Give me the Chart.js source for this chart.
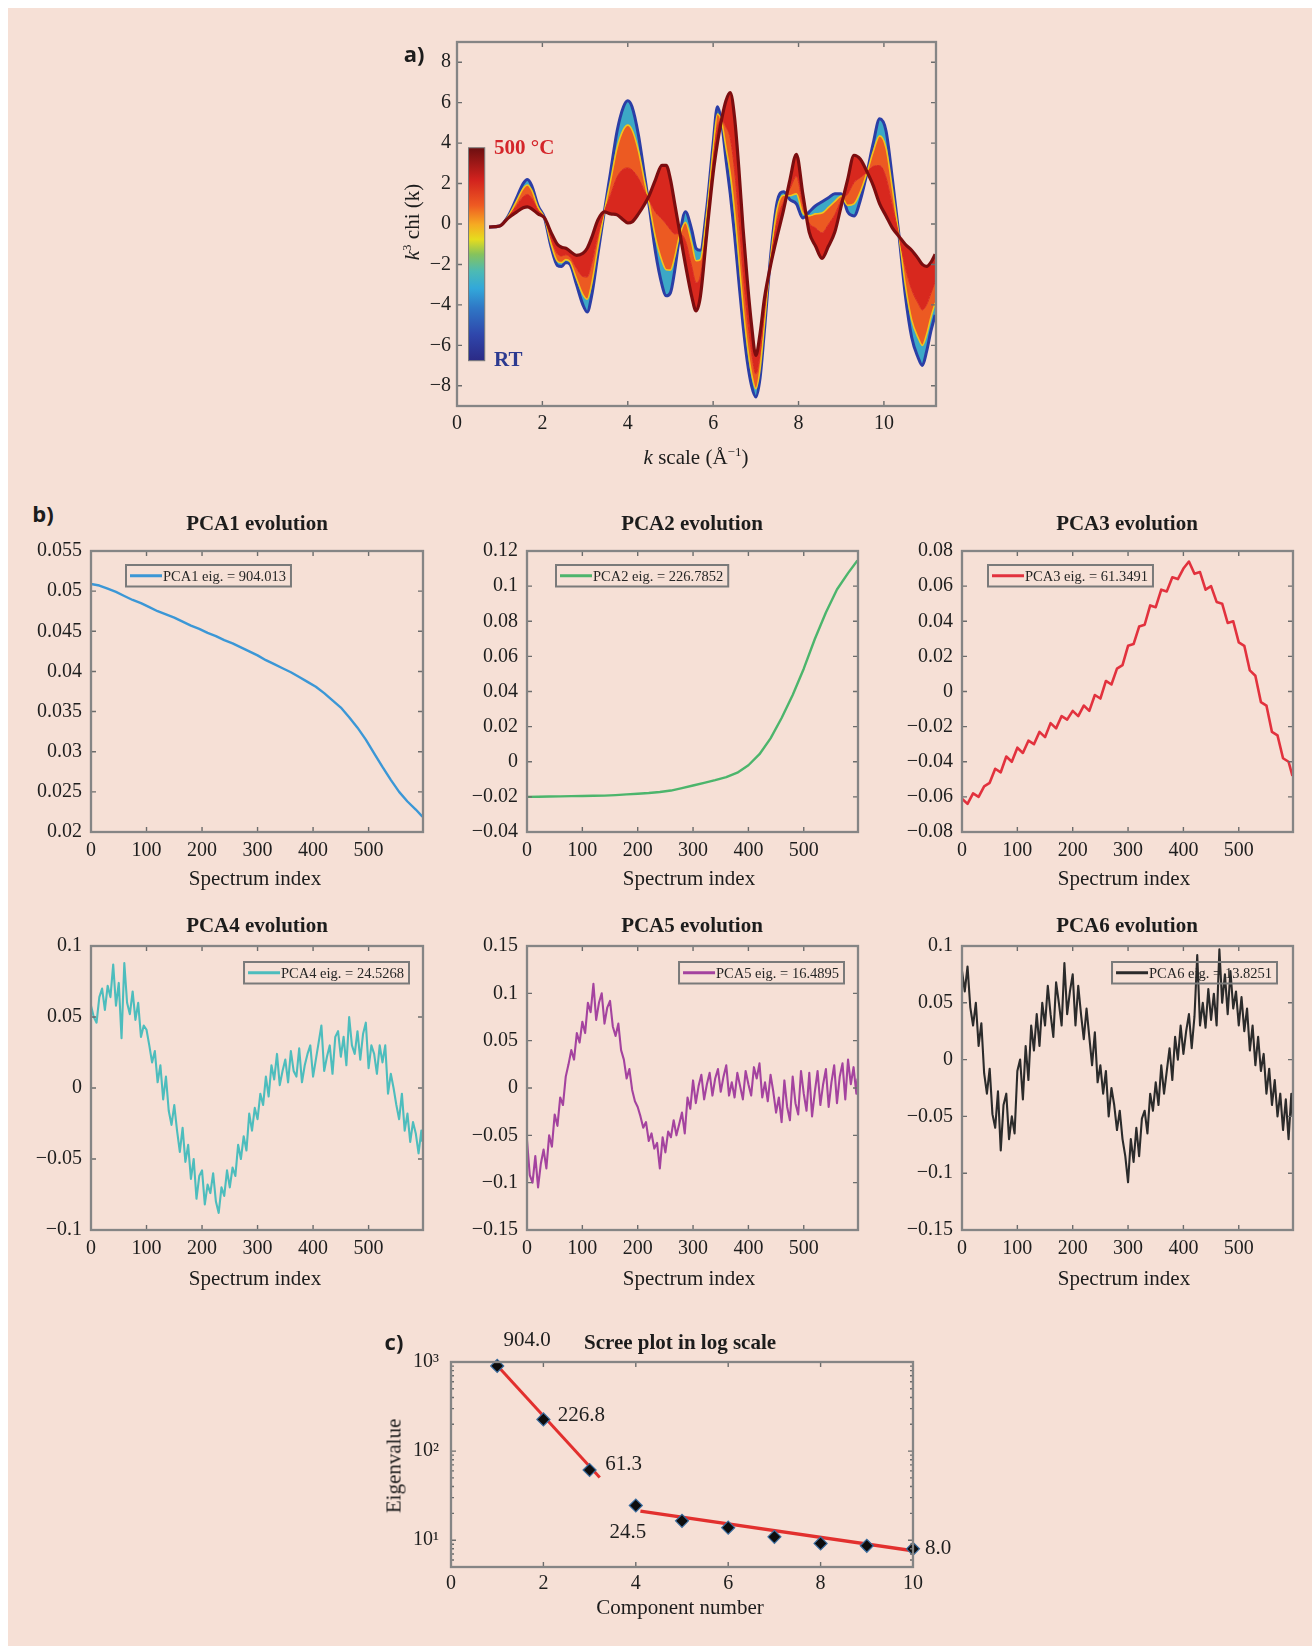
<!DOCTYPE html>
<html><head><meta charset="utf-8">
<script src="https://cdn.jsdelivr.net/npm/chart.js@4.4.1/dist/chart.umd.min.js"></script>
<style>
html,body{margin:0;padding:0;background:#fff;}
#page{position:relative;width:1312px;height:1646px;overflow:hidden;background:#fff;}
#bg{position:absolute;left:8px;top:8px;right:0;bottom:0;background:#f6e0d6;}
canvas{position:absolute;}
.t{position:absolute;font-family:'Liberation Serif','Times New Roman',serif;color:#1c1c1c;white-space:nowrap;transform:translate(-50%,-50%);font-size:21px;line-height:1;z-index:5;}
.b{font-weight:bold;}
.rot{transform:translate(-50%,-50%) rotate(-90deg);}
.lab{position:absolute;font-family:'Open Sans','Noto Sans',sans-serif;font-weight:bold;font-size:22px;color:#1c1c1c;transform:translate(-50%,-50%);line-height:1;z-index:5;}
sup{font-size:0.62em;vertical-align:0.55em;line-height:0;}
</style></head><body>
<div id="page"><div id="bg"></div>
<div class="lab" style="left:414px;top:53px;">a)</div>
<div class="t rot" style="left:412px;top:222px;"><i>k</i><sup>3</sup> chi (k)</div>
<div class="t" style="left:696px;top:457px;"><i>k</i> scale (Å<sup>−1</sup>)</div>
<div class="t b" style="left:494px;top:147px;transform:translate(0,-50%);color:#d4252a;">500 °C</div>
<div class="t b" style="left:494px;top:359px;transform:translate(0,-50%);color:#2c3a90;">RT</div>

<div class="lab" style="left:43px;top:513px;">b)</div>
<div class="t b" style="left:257px;top:523px;">PCA1 evolution</div>
<div class="t b" style="left:692px;top:523px;">PCA2 evolution</div>
<div class="t b" style="left:1127px;top:523px;">PCA3 evolution</div>
<div class="t b" style="left:257px;top:925px;">PCA4 evolution</div>
<div class="t b" style="left:692px;top:925px;">PCA5 evolution</div>
<div class="t b" style="left:1127px;top:925px;">PCA6 evolution</div>
<div class="t" style="left:255px;top:878px;">Spectrum index</div>
<div class="t" style="left:689px;top:878px;">Spectrum index</div>
<div class="t" style="left:1124px;top:878px;">Spectrum index</div>
<div class="t" style="left:255px;top:1278px;">Spectrum index</div>
<div class="t" style="left:689px;top:1278px;">Spectrum index</div>
<div class="t" style="left:1124px;top:1278px;">Spectrum index</div>

<div class="lab" style="left:394px;top:1341px;">c)</div>
<div class="t b" style="left:680px;top:1342px;">Scree plot in log scale</div>
<div class="t rot" style="left:394px;top:1466px;">Eigenvalue</div>
<div class="t" style="left:680px;top:1607px;">Component number</div>
</div>
<script>
// ---------------- DATA ----------------
// Panel a: k grid and k^3 chi(k) spectra (RT, two intermediate temperatures, 500 °C)
const kValues = [0.75,1.0,1.2,1.4,1.55,1.65,1.75,1.9,2.05,2.2,2.35,2.45,2.55,2.65,2.8,2.95,3.05,3.15,3.3,3.45,3.6,3.75,3.9,4.0,4.1,4.25,4.4,4.5,4.65,4.8,4.9,5.0,5.1,5.2,5.35,5.5,5.6,5.7,5.85,6.0,6.1,6.2,6.3,6.4,6.5,6.6,6.7,6.8,6.9,7.0,7.1,7.2,7.35,7.5,7.65,7.8,7.95,8.1,8.25,8.4,8.55,8.7,8.85,9.0,9.15,9.3,9.45,9.6,9.75,9.9,10.05,10.2,10.35,10.5,10.65,10.8,10.9,11.0,11.1,11.2];
const chiRT = [-0.15,-0.1,0.4,1.3,2.0,2.2,1.9,0.9,0.3,-1.1,-2.05,-2.1,-1.9,-2.0,-3.0,-4.0,-4.35,-3.6,-1.5,0.6,2.6,4.6,5.8,6.1,5.8,4.4,2.3,0.9,-1.4,-3.0,-3.55,-3.4,-2.3,-0.8,0.6,-0.3,-1.2,-1.3,0.8,4.0,5.8,5.0,3.2,1.5,-0.5,-2.8,-5.0,-6.8,-8.0,-8.55,-7.6,-5.3,-1.5,1.1,1.6,1.2,1.0,0.3,0.6,0.9,1.1,1.3,1.5,1.5,0.6,0.4,1.2,2.5,4.0,5.2,4.6,2.2,-0.5,-3.5,-5.6,-6.6,-7.0,-6.3,-5.3,-4.5];
const chiMidLow = [-0.15,-0.1,0.38,1.16,1.76,1.93,1.67,0.82,0.3,-0.96,-1.84,-1.91,-1.76,-1.87,-2.71,-3.49,-3.72,-3.02,-1.16,0.6,2.18,3.77,4.68,4.89,4.66,3.62,2.04,1.0,-0.68,-1.82,-2.26,-2.28,-1.64,-0.68,0.08,-0.96,-1.82,-1.76,0.54,3.7,5.44,5.04,3.78,2.5,0.66,-1.68,-4.04,-6.0,-7.4,-8.14,-7.16,-4.98,-1.6,0.76,1.42,1.4,1.49,0.54,0.4,0.5,0.54,0.82,1.12,1.38,0.92,1.0,1.6,2.52,3.58,4.36,3.76,1.72,-0.52,-3.0,-4.74,-5.62,-6.0,-5.46,-4.62,-3.9];
const chiMidHigh = [-0.15,-0.1,0.35,0.92,1.34,1.46,1.27,0.68,0.3,-0.72,-1.47,-1.58,-1.52,-1.64,-2.2,-2.6,-2.62,-2.0,-0.57,0.6,1.45,2.32,2.72,2.77,2.67,2.26,1.59,1.18,0.58,0.25,0.0,-0.28,-0.49,-0.47,-0.83,-2.12,-2.9,-2.57,0.09,3.18,4.81,5.11,4.8,4.25,2.69,0.28,-2.36,-4.6,-6.35,-7.42,-6.39,-4.42,-1.78,0.17,1.11,1.75,2.35,0.96,0.05,-0.2,-0.44,-0.02,0.46,1.17,1.48,2.05,2.3,2.56,2.85,2.89,2.29,0.88,-0.56,-2.13,-3.24,-3.91,-4.25,-3.99,-3.43,-2.85];
const chi500 = [-0.15,-0.1,0.3,0.6,0.8,0.85,0.75,0.5,0.3,-0.4,-1.0,-1.15,-1.2,-1.35,-1.55,-1.45,-1.2,-0.7,0.2,0.6,0.5,0.45,0.2,0.05,0.1,0.5,1.0,1.4,2.2,2.9,2.9,2.2,1.0,-0.2,-2.0,-3.6,-4.3,-3.6,-0.5,2.5,4.0,5.2,6.1,6.5,5.3,2.8,-0.2,-2.8,-5.0,-6.5,-5.4,-3.7,-2.0,-0.6,0.7,2.2,3.45,1.5,-0.4,-1.1,-1.7,-1.1,-0.4,0.9,2.2,3.4,3.2,2.6,1.9,1.0,0.4,-0.2,-0.6,-1.0,-1.3,-1.7,-2.0,-2.1,-1.9,-1.5];
const kTicks = [0,2,4,6,8,10];
const chiTicks = [-8,-6,-4,-2,0,2,4,6,8];
const colorbarK = [0.27, 0.65];
const colorbarChi = [-6.76, 3.77];

// Panel b: PCA score evolution vs spectrum index
const idxStep15 = Array.from({length:40},(_,i)=>i*15).concat(597);
const idxStep20 = Array.from({length:30},(_,i)=>i*20).concat(597);
const idxStep10 = Array.from({length:60},(_,i)=>i*10).concat(597);
const idxStep5  = Array.from({length:120},(_,i)=>i*5).concat(597);
const pca1 = [0.0509,0.0507,0.0503,0.0499,0.0494,0.0489,0.0485,0.0480,0.0475,0.0471,0.0467,0.0462,0.0457,0.0453,0.0448,0.0444,0.0439,0.0435,0.0430,0.0425,0.0420,0.0414,0.0409,0.0404,0.0399,0.0393,0.0387,0.0381,0.0373,0.0364,0.0355,0.0343,0.0330,0.0315,0.0298,0.0281,0.0265,0.0250,0.0238,0.0228,0.0219];
const pca2 = [-0.0200,-0.0199,-0.0198,-0.0197,-0.0196,-0.0195,-0.0194,-0.0193,-0.0190,-0.0186,-0.0182,-0.0178,-0.0172,-0.0164,-0.0150,-0.0135,-0.0120,-0.0105,-0.0088,-0.0062,-0.0020,0.0043,0.0133,0.0249,0.0380,0.0530,0.0699,0.0850,0.0981,0.1074,0.1146];
const pca3 = [-0.061,-0.064,-0.058,-0.060,-0.054,-0.052,-0.044,-0.046,-0.037,-0.040,-0.032,-0.035,-0.028,-0.030,-0.023,-0.026,-0.018,-0.021,-0.014,-0.016,-0.011,-0.014,-0.008,-0.011,-0.002,-0.004,0.006,0.004,0.013,0.015,0.026,0.027,0.037,0.038,0.049,0.048,0.058,0.057,0.065,0.064,0.070,0.074,0.067,0.068,0.058,0.060,0.051,0.050,0.039,0.040,0.028,0.026,0.012,0.009,-0.006,-0.008,-0.023,-0.025,-0.038,-0.040,-0.048];
const pca4 = [0.058,0.050,0.046,0.064,0.070,0.055,0.072,0.064,0.087,0.058,0.074,0.035,0.088,0.060,0.052,0.068,0.048,0.060,0.036,0.044,0.041,0.030,0.018,0.026,0.004,0.016,-0.008,0.008,-0.016,-0.026,-0.012,-0.030,-0.045,-0.028,-0.052,-0.040,-0.064,-0.050,-0.078,-0.062,-0.058,-0.082,-0.068,-0.074,-0.060,-0.080,-0.088,-0.070,-0.076,-0.058,-0.070,-0.056,-0.062,-0.040,-0.050,-0.034,-0.044,-0.018,-0.030,-0.014,-0.022,-0.004,-0.012,0.008,-0.006,0.016,0.006,0.024,0.002,0.012,0.020,0.004,0.026,0.012,0.008,0.028,0.004,0.016,0.024,0.030,0.008,0.020,0.032,0.044,0.012,0.022,0.030,0.010,0.036,0.040,0.022,0.036,0.016,0.050,0.030,0.024,0.040,0.020,0.038,0.046,0.014,0.030,0.024,0.010,0.030,0.018,0.030,-0.004,0.010,0.000,-0.012,-0.022,-0.004,-0.030,-0.018,-0.038,-0.024,-0.032,-0.046,-0.030,-0.038];
const pca5 = [-0.055,-0.092,-0.100,-0.072,-0.105,-0.080,-0.065,-0.085,-0.050,-0.062,-0.028,-0.040,-0.010,-0.018,0.012,0.025,0.040,0.030,0.058,0.048,0.070,0.058,0.090,0.080,0.110,0.072,0.090,0.100,0.068,0.085,0.092,0.065,0.055,0.068,0.040,0.030,0.010,0.020,-0.002,-0.014,-0.020,-0.030,-0.042,-0.036,-0.056,-0.048,-0.064,-0.058,-0.085,-0.052,-0.068,-0.046,-0.052,-0.034,-0.050,-0.038,-0.026,-0.048,-0.010,-0.022,0.008,-0.016,0.002,0.014,-0.012,0.004,0.016,-0.008,0.010,0.020,-0.004,0.012,0.024,-0.008,0.006,-0.010,0.016,0.002,-0.012,0.018,0.004,-0.008,0.022,0.010,0.026,-0.010,0.006,-0.014,0.014,-0.004,-0.026,-0.010,-0.036,0.008,-0.020,-0.034,0.012,-0.016,-0.028,0.018,-0.006,-0.024,0.016,-0.030,-0.004,0.018,-0.018,0.004,0.020,-0.020,0.006,0.024,-0.016,0.012,0.026,-0.012,0.030,0.004,0.022,-0.006,0.010];
const pca6 = [0.078,0.060,0.082,0.046,0.030,0.050,0.012,0.032,-0.012,-0.030,-0.008,-0.048,-0.060,-0.028,-0.080,-0.040,-0.030,-0.070,-0.050,-0.065,-0.010,0.000,-0.035,0.012,-0.018,0.030,0.008,0.040,0.012,0.050,0.030,0.065,0.040,0.020,0.068,0.050,0.030,0.085,0.040,0.060,0.075,0.030,0.065,0.040,0.018,0.045,0.020,-0.005,0.024,-0.020,-0.005,-0.030,-0.010,-0.050,-0.025,-0.040,-0.062,-0.045,-0.070,-0.085,-0.108,-0.070,-0.090,-0.060,-0.085,-0.052,-0.045,-0.065,-0.030,-0.045,-0.020,-0.040,-0.005,-0.030,-0.010,0.010,-0.018,0.020,0.000,0.030,0.005,0.025,0.040,0.010,0.038,0.092,0.030,0.050,0.028,0.062,0.035,0.058,0.030,0.097,0.050,0.075,0.040,0.078,0.045,0.060,0.030,0.055,0.025,0.045,0.008,0.030,-0.005,0.020,-0.010,0.005,-0.030,-0.008,-0.040,-0.018,-0.050,-0.030,-0.062,-0.035,-0.070,-0.030,-0.050];
const pcaNames = ['PCA1','PCA2','PCA3','PCA4','PCA5','PCA6'];
const pcaEig = ['904.013','226.7852','61.3491','24.5268','16.4895','13.8251'];
const idxTicks = [0,100,200,300,400,500];
const pca1Ticks = [0.02,0.025,0.03,0.035,0.04,0.045,0.05,0.055];
const pca2Ticks = [-0.04,-0.02,0,0.02,0.04,0.06,0.08,0.1,0.12];
const pca3Ticks = [-0.08,-0.06,-0.04,-0.02,0,0.02,0.04,0.06,0.08];
const pca4Ticks = [-0.1,-0.05,0,0.05,0.1];
const pca5Ticks = [-0.15,-0.1,-0.05,0,0.05,0.1,0.15];
const pca6Ticks = [-0.15,-0.1,-0.05,0,0.05,0.1];

// Panel c: scree plot
const screeComponents = [1,2,3,4,5,6,7,8,9,10];
const screeEigen = [904.0,226.8,61.3,24.5,16.49,13.83,10.9,9.2,8.65,8.0];
const fitLine1 = [[0.98,935],[3.22,50.5]];
const fitLine2 = [[4.1,21.2],[10,7.6]];
const screeXTicks = [0,2,4,6,8,10];
const screeYTicks = [10,100,1000];
const labelledComponents = [0,1,2,3,9];

// ---------------- HELPERS ----------------
const SERIF = "'Liberation Serif','Times New Roman',serif";
const TXT = '#1e1e1e';

function fmt(v){
  if (Math.abs(v) < 1e-12) return '0';
  return String(parseFloat(v.toFixed(4))).replace('-', '\u2212');
}
function mkCanvas(box, m){
  const c = document.createElement('canvas');
  const w = box.r - box.l + m.L + m.R, h = box.b - box.t + m.T + m.B;
  c.width = w; c.height = h;
  c.style.left = (box.l - m.L) + 'px'; c.style.top = (box.t - m.T) + 'px';
  c.style.width = w + 'px'; c.style.height = h + 'px';
  document.getElementById('page').appendChild(c);
  return c;
}
function axis(type, min, max, ticks, isX, fit, pad, labelFn){
  return {
    type, min, max, bounds:'data',
    grid:{display:false, drawTicks:false}, border:{display:false},
    afterBuildTicks: s => { s.ticks = ticks.map(v => ({value:v})); },
    afterFit: s => { if (isX) s.height = fit; else s.width = fit; },
    ticks:{padding:pad, color:TXT, font:{family:SERIF, size:20}, autoSkip:false, maxRotation:0, minRotation:0,
      callback: labelFn || (v => fmt(v))}
  };
}
const framePlugin = {
  id:'frame',
  afterDatasetsDraw(chart, args, o){
    const {ctx, chartArea:a, scales} = chart;
    const xs = scales.x, ys = scales.y, len = 5;
    ctx.save();
    ctx.strokeStyle = '#6c6c6c'; ctx.lineWidth = 1.4;
    ctx.beginPath();
    xs.ticks.forEach(t => { const p = xs.getPixelForValue(t.value);
      ctx.moveTo(p, a.bottom); ctx.lineTo(p, a.bottom - len); ctx.moveTo(p, a.top); ctx.lineTo(p, a.top + len); });
    ys.ticks.forEach(t => { const p = ys.getPixelForValue(t.value);
      ctx.moveTo(a.left, p); ctx.lineTo(a.left + len, p); ctx.moveTo(a.right, p); ctx.lineTo(a.right - len, p); });
    if (o && o.logMinor) {
      for (let d = 1; d <= 100; d *= 10) for (let k = 2; k <= 9; k++) {
        const v = d * k; if (v < ys.min || v > ys.max) continue;
        const p = ys.getPixelForValue(v);
        ctx.moveTo(a.left, p); ctx.lineTo(a.left + 3, p); ctx.moveTo(a.right, p); ctx.lineTo(a.right - 3, p);
      }
    }
    ctx.stroke();
    ctx.strokeStyle = '#858585'; ctx.lineWidth = 2.3;
    ctx.strokeRect(a.left, a.top, a.width, a.height);
    ctx.restore();
  }
};
const boxLegend = {
  id:'boxLegend',
  afterDatasetsDraw(chart, args, o){
    if (!o || !o.side) return;
    const ds = chart.data.datasets[0], ctx = chart.ctx, a = chart.chartArea;
    ctx.save();
    ctx.font = '14.5px ' + SERIF;
    const tw = ctx.measureText(ds.label).width, lineLen = 32;
    const w = 4 + lineLen + 1 + tw + 5, h = 21.5;
    const x = o.side === 'left' ? a.left + o.dx : a.right - o.dx - w;
    const y = a.top + o.dy;
    ctx.strokeStyle = '#7a7a7a'; ctx.lineWidth = 2; ctx.strokeRect(x, y, w, h);
    ctx.strokeStyle = ds.borderColor; ctx.lineWidth = 3;
    ctx.beginPath(); ctx.moveTo(x + 4, y + h/2); ctx.lineTo(x + 4 + lineLen, y + h/2); ctx.stroke();
    ctx.fillStyle = '#262626'; ctx.textBaseline = 'middle'; ctx.textAlign = 'left';
    ctx.fillText(ds.label, x + 5 + lineLen, y + h/2 + 1);
    ctx.restore();
  }
};
const colorbarPlugin = {
  id:'colorbar',
  afterDatasetsDraw(chart, args, o){
    if (!o || !o.k) return;
    const xs = chart.scales.x, ys = chart.scales.y, ctx = chart.ctx;
    const x0 = xs.getPixelForValue(o.k[0]), x1 = xs.getPixelForValue(o.k[1]);
    const yTop = ys.getPixelForValue(o.chi[1]), yBot = ys.getPixelForValue(o.chi[0]);
    const g = ctx.createLinearGradient(0, yBot, 0, yTop);
    [[0,'#2b2a85'],[0.12,'#2f46ab'],[0.25,'#2f78c6'],[0.34,'#32a8da'],[0.42,'#4cbab4'],[0.5,'#86c35c'],[0.57,'#e6dc1e'],[0.64,'#f6aa22'],[0.73,'#ee5a22'],[0.85,'#d2221e'],[1,'#6c0f10']]
      .forEach(s => g.addColorStop(s[0], s[1]));
    ctx.save(); ctx.fillStyle = g; ctx.fillRect(x0, yTop, x1 - x0, yBot - yTop);
    ctx.strokeStyle = '#7a7a7a'; ctx.lineWidth = 1; ctx.strokeRect(x0, yTop, x1 - x0, yBot - yTop);
    ctx.restore();
  }
};
const pointLabels = {
  id:'pointLabels',
  afterDatasetsDraw(chart, args, o){
    if (!o || !o.items) return;
    const xs = chart.scales.x, ys = chart.scales.y, ctx = chart.ctx;
    ctx.save(); ctx.font = '21px ' + SERIF; ctx.fillStyle = TXT; ctx.textAlign = 'center'; ctx.textBaseline = 'middle';
    o.items.forEach(it => ctx.fillText(it.text, xs.getPixelForValue(it.x) + it.dx, ys.getPixelForValue(it.y) + it.dy));
    ctx.restore();
  }
};
function baseOptions(m){
  return { responsive:false, animation:false, devicePixelRatio:1,
    layout:{padding:{top:m.T, right:m.R, left:0, bottom:0}},
    elements:{point:{radius:0}},
    plugins:{legend:{display:false}, tooltip:{enabled:false}, title:{display:false}} };
}
const pts = (xs, ys) => ys.map((y, i) => ({x: xs[i], y}));

// ---------------- PANEL A ----------------
(function(){
  const box = {l:457, t:42, r:936, b:406}, m = {L:75, T:20, R:14, B:40};
  const c = mkCanvas(box, m);
  const opt = baseOptions(m);
  opt.scales = { x: axis('linear', 0, 11.22, kTicks, true, m.B, 6), y: axis('linear', -9, 9, chiTicks, false, m.L, 6) };
  opt.plugins.colorbar = {k: colorbarK, chi: colorbarChi};
  const common = {pointRadius:0, cubicInterpolationMode:'monotone'};
  new Chart(c, { type:'line', plugins:[framePlugin, colorbarPlugin],
    data:{ datasets:[
      Object.assign({label:'500 °C', data:pts(kValues, chi500), borderColor:'#7c0d0f', borderWidth:3.2, fill:false}, common),
      Object.assign({label:'intermediate high', data:pts(kValues, chiMidHigh), borderColor:'#d8281e', borderWidth:1, fill:'-1', backgroundColor:'#d8281e'}, common),
      Object.assign({label:'intermediate low', data:pts(kValues, chiMidLow), borderColor:'#f0c41e', borderWidth:1.6, fill:'-1', backgroundColor:'#ec5a22'}, common),
      Object.assign({label:'RT', data:pts(kValues, chiRT), borderColor:'#2b3ea6', borderWidth:3, fill:'-1', backgroundColor:'#3ca8c6'}, common)
    ]}, options:opt });
})();

// ---------------- PANEL B ----------------
const cols = [{l:91, r:423}, {l:527, r:858}, {l:962, r:1293}];
const rows = [{t:548, b:832}, {t:943, b:1230}];
const pcaSpecs = [
  {idx:idxStep15, vals:pca1, color:'#3b97d6', lw:2.4, yr:[0.02,0.055], ticks:pca1Ticks, leg:{side:'left', dx:35, dy:14}},
  {idx:idxStep20, vals:pca2, color:'#4cb56c', lw:2.4, yr:[-0.04,0.12], ticks:pca2Ticks, leg:{side:'left', dx:29, dy:14}},
  {idx:idxStep10, vals:pca3, color:'#e2323e', lw:2.6, yr:[-0.08,0.08], ticks:pca3Ticks, leg:{side:'left', dx:26, dy:14}},
  {idx:idxStep5, vals:pca4, color:'#4dbdbd', lw:2.1, yr:[-0.1,0.1], ticks:pca4Ticks, leg:{side:'right', dx:14, dy:16}},
  {idx:idxStep5, vals:pca5, color:'#a4439f', lw:2.1, yr:[-0.15,0.15], ticks:pca5Ticks, leg:{side:'right', dx:14, dy:16}},
  {idx:idxStep5, vals:pca6, color:'#2b2b2b', lw:2.1, yr:[-0.15,0.1], ticks:pca6Ticks, leg:{side:'right', dx:16, dy:16}}
];
pcaSpecs.forEach((s, i) => {
  const col = cols[i % 3], row = rows[Math.floor(i / 3)];
  const box = {l:col.l, r:col.r, t:row.t, b:row.b}, m = {L:88, T:18, R:14, B:40};
  const c = mkCanvas(box, m);
  const opt = baseOptions(m);
  opt.scales = { x: axis('linear', 0, 598, idxTicks, true, m.B, 7), y: axis('linear', s.yr[0], s.yr[1], s.ticks, false, m.L, 9) };
  opt.plugins.boxLegend = s.leg;
  new Chart(c, { type:'line', plugins:[framePlugin, boxLegend],
    data:{ datasets:[{ label: pcaNames[i] + ' eig. = ' + pcaEig[i], data: pts(s.idx, s.vals),
      borderColor: s.color, borderWidth: s.lw, pointRadius:0, tension:0, fill:false, borderJoinStyle:'round' }]},
    options:opt });
});

// ---------------- PANEL C ----------------
(function(){
  const box = {l:451, t:1362, r:913, b:1567}, m = {L:62, T:36, R:50, B:36};
  const c = mkCanvas(box, m);
  const opt = baseOptions(m);
  const sup = {10:'10\u00B9', 100:'10\u00B2', 1000:'10\u00B3'};
  opt.scales = { x: axis('linear', 0, 10, screeXTicks, true, m.B, 5),
                 y: axis('logarithmic', 5, 1000, screeYTicks, false, m.L, 12, v => sup[v] || '') };
  opt.plugins.frame = {logMinor:true};
  const offs = [[30,-25],[38,-4],[34,-6],[-8,27],[0,0],[0,0],[0,0],[0,0],[0,0],[25,0]];
  opt.plugins.pointLabels = { items: labelledComponents.map(i => ({ x: screeComponents[i], y: screeEigen[i],
    text: screeEigen[i].toFixed(1), dx: offs[i][0], dy: offs[i][1] })) };
  new Chart(c, { type:'line', plugins:[framePlugin, pointLabels],
    data:{ datasets:[
      { label:'eigenvalues', data: pts(screeComponents, screeEigen), showLine:false, pointStyle:'rectRot',
        pointRadius:6.5, backgroundColor:'#0d0d0d', borderColor:'#3a6c9e', borderWidth:1.2, clip:false },
      { label:'fit 1', data: fitLine1.map(p => ({x:p[0], y:p[1]})), borderColor:'#e2302e', borderWidth:3, pointRadius:0 },
      { label:'fit 2', data: fitLine2.map(p => ({x:p[0], y:p[1]})), borderColor:'#e2302e', borderWidth:3.5, pointRadius:0 }
    ]}, options:opt });
})();
</script>
</body></html>
